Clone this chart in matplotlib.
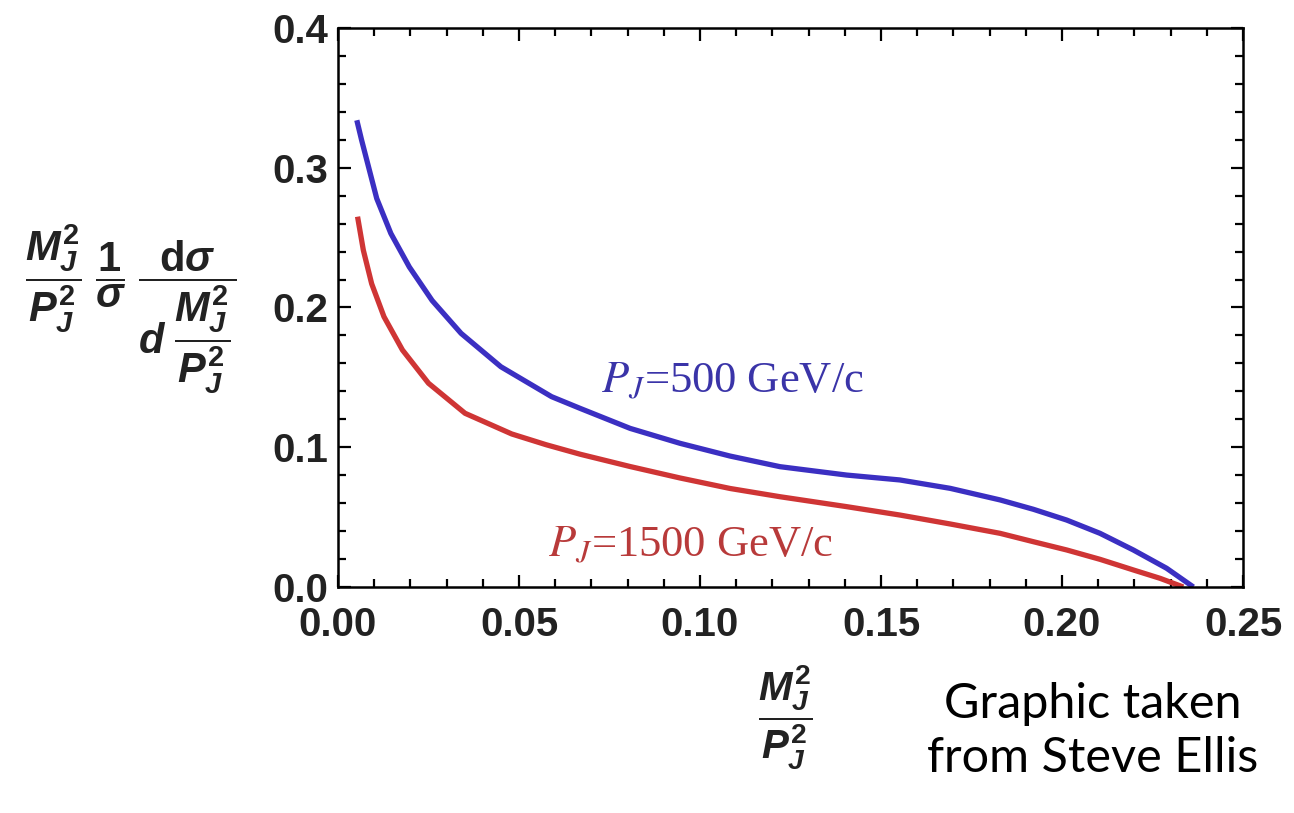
import numpy as np
import matplotlib
matplotlib.use("Agg")
import matplotlib.pyplot as plt
from matplotlib.ticker import MultipleLocator

# フォント設定
plt.rcParams['font.family'] = 'Liberation Sans'
plt.rcParams['mathtext.fontset'] = 'custom'
plt.rcParams['mathtext.rm'] = 'Liberation Sans:bold'
plt.rcParams['mathtext.it'] = 'Liberation Sans:bold:italic'
plt.rcParams['mathtext.bf'] = 'Liberation Sans:bold'

# データ
x_500 = [0.0052, 0.0065, 0.0084, 0.0107, 0.0146, 0.0197, 0.0260, 0.0340, 0.0450,
         0.0590, 0.0669, 0.0807, 0.0945, 0.1083, 0.1221, 0.1405, 0.1552, 0.1691,
         0.1829, 0.1921, 0.2013, 0.2105, 0.2197, 0.2289, 0.2363]
y_500 = [0.334, 0.320, 0.301, 0.278, 0.253, 0.229, 0.205, 0.1815, 0.1576,
         0.1362, 0.1278, 0.1135, 0.1028, 0.0937, 0.0861, 0.0801, 0.0766, 0.0706,
         0.0623, 0.0556, 0.0479, 0.0384, 0.0265, 0.0134, 0.0]

x_1500 = [0.0054, 0.0070, 0.0093, 0.0127, 0.0178, 0.0250, 0.0351, 0.0480, 0.0575,
          0.0669, 0.0807, 0.0945, 0.1083, 0.1221, 0.1405, 0.1552, 0.1691, 0.1829,
          0.1921, 0.2013, 0.2105, 0.2197, 0.2271, 0.2335]
y_1500 = [0.265, 0.241, 0.217, 0.1934, 0.1696, 0.1458, 0.1243, 0.1095, 0.1018,
          0.0950, 0.0862, 0.0780, 0.0705, 0.0646, 0.0575, 0.0515, 0.0451, 0.0384,
          0.0324, 0.0265, 0.0198, 0.0122, 0.0062, 0.0]

xticks = [0.00, 0.05, 0.10, 0.15, 0.20, 0.25]
yticks = [0.0, 0.1, 0.2, 0.3, 0.4]

fig = plt.figure(figsize=(12.94, 8.13), dpi=100)
ax = fig.add_axes([338/1294, 1-587/813, 905/1294, 559/813])

ax.plot(x_500, y_500, color='#3b2fc2', lw=3.8, solid_capstyle='butt', solid_joinstyle='round')
ax.plot(x_1500, y_1500, color='#cf3535', lw=3.8, solid_capstyle='butt', solid_joinstyle='round')

ax.set_xlim(0, 0.25)
ax.set_ylim(0, 0.4)
ax.set_xticks(xticks)
ax.set_yticks(yticks)
ax.set_xticklabels(['%.2f' % t for t in xticks])
ax.set_yticklabels(['%.1f' % t for t in yticks])
ax.xaxis.set_minor_locator(MultipleLocator(0.01))
ax.yaxis.set_minor_locator(MultipleLocator(0.02))
ax.tick_params(which='both', direction='in', top=True, right=True, width=1.6)
ax.tick_params(which='major', length=9, labelsize=29)
ax.tick_params(axis='y', which='major', pad=7)
ax.tick_params(axis='x', which='major', pad=14)
ax.tick_params(which='minor', length=5.5)
for lab in ax.get_xticklabels() + ax.get_yticklabels():
    lab.set_fontweight('bold')
    lab.set_color('#222222')
for s in ax.spines.values():
    s.set_linewidth(1.8)

# 曲線のラベル
ax.text(0.0727, 0.147, r'$P_J$=500 GeV/c', color='#3a34a8', fontsize=32,
        fontfamily='Liberation Serif', math_fontfamily='stix', va='center', ha='left')
ax.text(0.058, 0.030, r'$P_J$=1500 GeV/c', color='#b83a3a', fontsize=32,
        fontfamily='Liberation Serif', math_fontfamily='stix', va='center', ha='left')

# 軸ラベル
fig.text(25/1294, 1-309/813,
         r'$\dfrac{M_J^2}{P_J^2}\;\dfrac{1}{\sigma}\;\dfrac{\mathrm{d}\sigma}{d\;\dfrac{M_J^2}{P_J^2}}$',
         fontsize=30, ha='left', va='center', color='#222222')
fig.text(785/1294, 1-718/813, r'$\dfrac{M_J^2}{P_J^2}$',
         fontsize=29, ha='center', va='center', color='#222222')

fig.text(1093/1294, 1-731/813, 'Graphic taken\nfrom Steve Ellis', fontsize=35,
         fontfamily='Lato', ha='center', va='center', linespacing=1.3)

fig.savefig('out.png', dpi=100)
